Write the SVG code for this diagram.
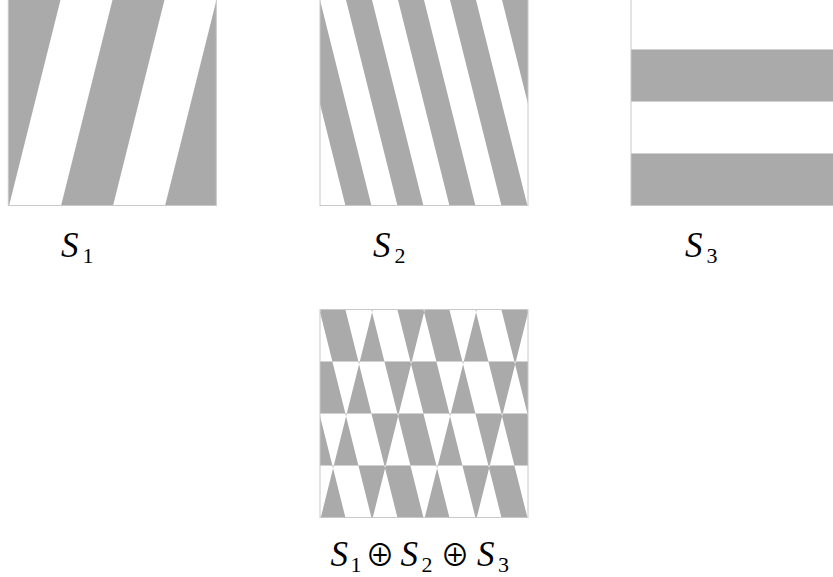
<svg xmlns="http://www.w3.org/2000/svg" width="833" height="577" viewBox="0 0 833 577">
<style>
.g{fill:#aaaaaa}
.x{fill:#aaaaaa;fill-rule:evenodd}
.ol{fill:none;stroke:#c8c8c8;stroke-width:1}
.sl{stroke:#d2d2d2;stroke-width:0.8}
.lab{font-family:"Liberation Serif","DejaVu Serif",serif;font-style:italic;font-size:35px;fill:#000}
.sub{font-family:"Liberation Serif","DejaVu Serif",serif;font-style:normal;font-size:22px;fill:#000}
.op{font-family:"Noto Sans CJK SC","DejaVu Serif",serif;font-style:normal;font-size:29px;fill:#000}
</style>
<defs>
<clipPath id="sq" clipPathUnits="userSpaceOnUse"><rect x="0" y="0" width="208" height="208"/></clipPath>
<path id="p1" d="M0.8,0 L52.8,0 L0.8,208 L-51.2,208Z M104.8,0 L156.8,0 L104.8,208 L52.8,208Z M208.8,0 L260.8,0 L208.8,208 L156.8,208Z"/>
<path id="p2" d="M-26.6,0 L-0.6,0 L51.4,208 L25.4,208Z M25.4,0 L51.4,0 L103.4,208 L77.4,208Z M77.4,0 L103.4,0 L155.4,208 L129.4,208Z M129.4,0 L155.4,0 L207.4,208 L181.4,208Z M181.4,0 L207.4,0 L259.4,208 L233.4,208Z"/>
<path id="p3" d="M0,52 H208 V104 H0Z M0,156 H208 V208 H0Z"/>
</defs>

<g id="S1">
<g transform="translate(8.3,-2.5)">
<rect x="0" y="0" width="208" height="208" fill="#fff"/>
<g clip-path="url(#sq)"><use href="#p1" class="g"/></g>
<rect x="0" y="0" width="208" height="208" class="ol"/>
</g>
<text class="lab" x="61" y="257">S</text><text class="sub" x="82.5" y="263">1</text>
</g>

<g id="S2">
<g transform="translate(320,-2.5)">
<rect x="0" y="0" width="208" height="208" fill="#fff"/>
<g clip-path="url(#sq)"><use href="#p2" class="g"/></g>
<rect x="0" y="0" width="208" height="208" class="ol"/>
</g>
<text class="lab" x="373" y="257">S</text><text class="sub" x="394.5" y="263">2</text>
</g>

<g id="S3">
<g transform="translate(631,-2.5)">
<rect x="0" y="0" width="208" height="208" fill="#fff"/>
<g clip-path="url(#sq)"><use href="#p3" class="g"/></g>
<line x1="0" y1="52" x2="208" y2="52" class="sl"/>
<line x1="0" y1="104" x2="208" y2="104" class="sl"/>
<line x1="0" y1="156" x2="208" y2="156" class="sl"/>
<rect x="0" y="0" width="208" height="208" class="ol"/>
</g>
<text class="lab" x="685" y="257">S</text><text class="sub" x="706.5" y="263">3</text>
</g>

<g id="Sum">
<g transform="translate(320,309.5)">
<rect x="0" y="0" width="208" height="208" fill="#fff"/>
<g clip-path="url(#sq)">
<path class="x" d="M0.8,0 L52.8,0 L0.8,208 L-51.2,208Z M104.8,0 L156.8,0 L104.8,208 L52.8,208Z M208.8,0 L260.8,0 L208.8,208 L156.8,208Z M-26.6,0 L-0.6,0 L51.4,208 L25.4,208Z M25.4,0 L51.4,0 L103.4,208 L77.4,208Z M77.4,0 L103.4,0 L155.4,208 L129.4,208Z M129.4,0 L155.4,0 L207.4,208 L181.4,208Z M181.4,0 L207.4,0 L259.4,208 L233.4,208Z M0,52 H208 V104 H0Z M0,156 H208 V208 H0Z"/>
</g>
<line x1="0" y1="52" x2="208" y2="52" class="sl"/>
<line x1="0" y1="104" x2="208" y2="104" class="sl"/>
<line x1="0" y1="156" x2="208" y2="156" class="sl"/>
<rect x="0" y="0" width="208" height="208" class="ol"/>
</g>
<text class="lab" x="330.5" y="566">S</text><text class="sub" x="350.5" y="572">1</text>
<text class="op" x="365.5" y="565.5">⊕</text>
<text class="lab" x="400.5" y="566">S</text><text class="sub" x="421.5" y="572">2</text>
<text class="op" x="440.5" y="565.5">⊕</text>
<text class="lab" x="477" y="566">S</text><text class="sub" x="498" y="572">3</text>
</g>
</svg>
